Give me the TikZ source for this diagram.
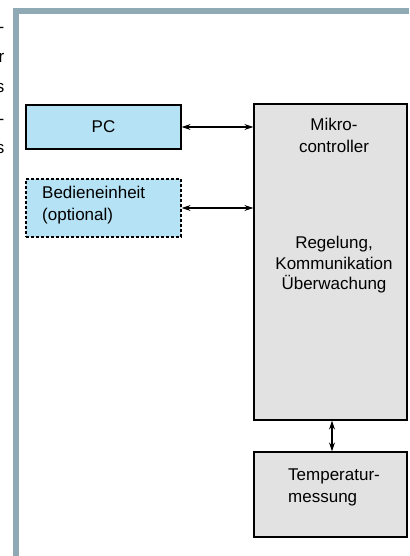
\documentclass[tikz,border=0pt]{standalone}
\usepackage{fontspec}
\setmainfont{Liberation Sans}
\usetikzlibrary{arrows.meta}
\definecolor{framecol}{HTML}{8FA9B5}
\definecolor{bluefill}{HTML}{B5E2F4}
\definecolor{greyfill}{HTML}{E2E2E2}
\tikzset{
  x=1pt,y=-1pt,
  blk/.style={draw=black,line width=1.3pt,rectangle,inner sep=0pt},
  bluebox/.style={blk,fill=bluefill},
  greybox/.style={blk,fill=greyfill},
  lbl/.style={font=\fontsize{17}{22}\selectfont,inner sep=0pt},
  frag/.style={font=\fontsize{17}{22}\selectfont,inner sep=0pt,anchor=east},
  dbl/.style={{Stealth[length=9pt,width=6pt]}-{Stealth[length=9pt,width=6pt]},line width=1.2pt}
}
\begin{document}
\begin{tikzpicture}
\useasboundingbox (0,0) rectangle (409,556);
% outer frame
\draw[framecol,line width=6pt] (16,556) -- (16,11) -- (409,11);
% fragments of neighbouring text (cut off at the page edge)
\node[frag] at (4.5,30) {-};
\node[frag] at (4.5,58) {r};
\node[frag] at (4.5,88) {s};
\node[frag] at (4.5,122) {-};
\node[frag] at (4.5,149) {s};
% boxes
\node[bluebox,minimum width=155pt,minimum height=44pt] (pc) at (103.5,127) {};
\node[lbl] (pct) at (pc.center) {PC};
\node[bluebox,dashed,dash pattern=on 3pt off 2pt,minimum width=155pt,minimum height=58pt] (bed) at (103.5,208) {};
\node[lbl,anchor=north west,align=left] (bedt) at (42,186) {Bedieneinheit\\(optional)};
\node[greybox,minimum width=153pt,minimum height=316pt] (mc) at (330.5,262) {};
\node[lbl,align=center] (mct1) at (334,135) {Mikro-\\controller};
\node[lbl,align=center] (mct2) at (334,265) {Regelung,\\[-1.5pt]Kommunikation\\[-1.5pt]Überwachung};
\node[greybox,minimum width=153pt,minimum height=85pt] (tm) at (330.5,494.5) {};
\node[lbl,anchor=north west,align=left] (tmt) at (288,469) {Temperatur-\\messung};
% connectors
\draw[dbl] (pc.east) -- (pc.east -| mc.west);
\draw[dbl] (bed.east) -- (bed.east -| mc.west);
\draw[dbl] (mc.south -| 332,0) -- (tm.north -| 332,0);
\end{tikzpicture}
\end{document}
